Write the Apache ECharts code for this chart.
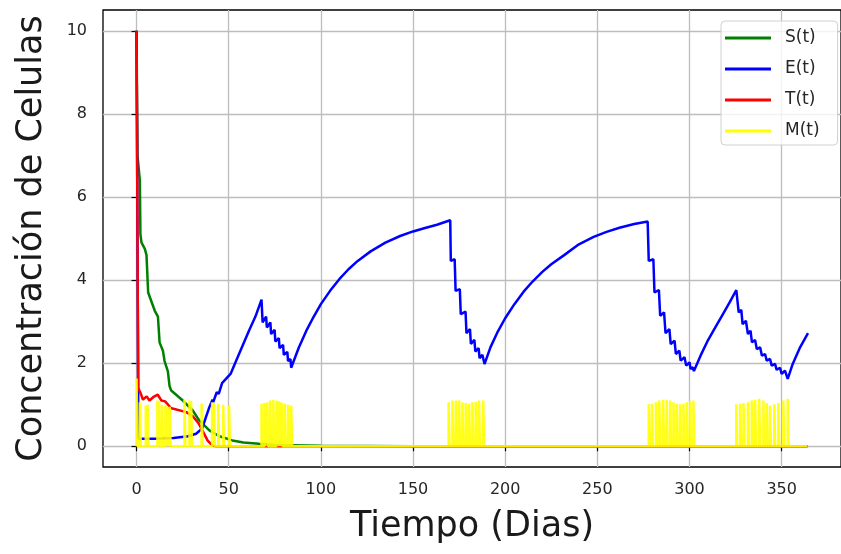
<!DOCTYPE html>
<html>
<head>
<meta charset="utf-8">
<script src="https://cdn.jsdelivr.net/npm/echarts@6/dist/echarts.min.js"></script>
<style>
  html, body { margin: 0; padding: 0; background: #ffffff; }
  #chart { width: 841px; height: 554px; }
</style>
</head>
<body>
<div id="chart"></div>
<script>
// Tumour / immune / chemotherapy model over one year (days 0..364)

// S(t): normal cells
const sDays = [0, 0.5, 1.8, 2.1, 2.7, 4.5, 5.4, 6.3, 9.9, 11.6, 12.5, 14.3, 15.2, 17, 17.9, 18.8, 25.1, 30.5, 34, 39.5, 44.9, 52, 58, 66.4, 75, 100, 150, 364];
const sVals = [10, 7.0, 6.4, 5.1, 4.9, 4.75, 4.6, 3.7, 3.26, 3.12, 2.5, 2.3, 2.05, 1.8, 1.45, 1.34, 1.1, 0.86, 0.62, 0.38, 0.24, 0.14, 0.09, 0.06, 0.03, 0.01, 0, 0];

// E(t): effector cells
const eDays = [0, 1, 10, 20, 28, 32.3, 35.5, 39.5, 41.2, 41.6, 43.5, 44.2, 44.6, 46.4, 47, 48.5, 49, 51, 55.6, 61, 64.5, 67.8,
  68.4, 70.3, 70.7, 72.6, 73.0, 74.9, 75.3, 77.2, 77.6, 79.5, 79.9, 81.8, 82.2, 83.5, 83.9,
  88, 92, 96, 100, 105, 110, 115, 120, 127, 135, 143, 150, 157, 163, 170.2,
  170.5, 172.6, 173.1, 175.4, 175.9, 178.5, 179.0, 180.9, 181.4, 183.3, 183.8, 185.6, 186.1, 187.6, 188.8,
  192, 196, 200, 205, 210, 215, 220, 225, 232, 240, 248, 255, 262, 270, 277.3,
  277.9, 280.4, 281.0, 283.4, 284.1, 286.2, 287.0, 289.1, 289.8, 291.9, 292.6, 294.5, 295.2, 297.3, 298.2, 300.0, 300.6, 301.8, 302.4,
  306, 310, 314, 318, 322, 325.4,
  326.7, 328.1, 328.8, 330.6, 331.7, 333.1, 333.9, 335.6, 336.5, 338.3, 339.3, 341, 341.9, 343.7, 344.6, 346.4, 347.3, 349.1, 350, 351.8, 353.3,
  356, 360, 364.3];
const eVals = [10, 0.18, 0.18, 0.2, 0.24, 0.3, 0.42, 0.94, 1.12, 1.06, 1.3, 1.34, 1.26, 1.52, 1.5, 1.62, 1.58, 1.74, 2.22, 2.78, 3.12, 3.53,
  2.98, 3.12, 2.86, 2.98, 2.70, 2.80, 2.52, 2.60, 2.36, 2.44, 2.20, 2.27, 2.05, 2.10, 1.89,
  2.37, 2.77, 3.11, 3.42, 3.74, 4.02, 4.26, 4.46, 4.69, 4.90, 5.06, 5.17, 5.26, 5.33, 5.44,
  4.46, 4.50, 3.74, 3.78, 3.18, 3.24, 2.72, 2.82, 2.46, 2.56, 2.28, 2.36, 2.12, 2.20, 1.98,
  2.38, 2.76, 3.08, 3.42, 3.72, 3.97, 4.19, 4.38, 4.60, 4.86, 5.04, 5.16, 5.26, 5.35, 5.41,
  4.46, 4.50, 3.70, 3.76, 3.14, 3.22, 2.72, 2.82, 2.46, 2.54, 2.22, 2.30, 2.06, 2.14, 1.94, 2.02, 1.86, 1.90, 1.81,
  2.18, 2.55, 2.86, 3.17, 3.48, 3.76,
  3.22, 3.28, 2.94, 3.02, 2.70, 2.78, 2.50, 2.56, 2.34, 2.38, 2.18, 2.22, 2.06, 2.10, 1.94, 1.98, 1.84, 1.89, 1.74, 1.82, 1.62,
  1.98, 2.38, 2.72];

// T(t): tumour cells
const tDays = [0, 0.9, 2, 3.5, 5.5, 7, 9, 11.5, 13.5, 15.5, 17.5, 18.5, 27, 30.5, 33.5, 36, 38.5, 41, 43, 364];
const tVals = [10, 1.4, 1.3, 1.12, 1.2, 1.1, 1.18, 1.24, 1.1, 1.08, 0.98, 0.92, 0.82, 0.72, 0.56, 0.36, 0.14, 0.02, 0, 0];

// M(t): drug concentration, one pulse per dose (day of dose, peak value)
const mPulseDays = [0, 1.8, 5.0, 6.0, 11.3, 12.2, 13.8, 15.6, 17.0, 18.0, 26.0, 28.7, 29.6, 35.3, 41.0, 42.0, 44.3, 47.0, 50.2,
  67.8, 69.4, 70.9, 72.5, 74.2, 75.9, 77.3, 78.7, 80.5, 82.3, 83.9,
  169.3, 171.4, 173.2, 175.0, 176.8, 178.6, 180.4, 182.2, 184.0, 185.8, 188.1,
  277.9, 279.6, 281.8, 283.6, 285.7, 287.6, 289.5, 291.3, 293.1, 294.9, 296.7, 298.5, 300.3, 302.1,
  325.4, 327.5, 329.3, 331.7, 333.8, 335.6, 337.8, 340.1, 341.9, 343.7, 346.0, 348.2, 350.9, 353.3];
const mPulsePeaks = [1.63, 1.06, 0.98, 1.0, 1.1, 1.08, 1.0, 0.98, 0.95, 0.95, 1.12, 1.1, 1.09, 1.02, 1.06, 1.04, 1.02, 1.0, 0.98,
  1.02, 1.04, 1.06, 1.1, 1.11, 1.1, 1.08, 1.05, 1.02, 1.0, 0.98,
  1.06, 1.1, 1.1, 1.1, 1.06, 1.04, 1.02, 1.06, 1.07, 1.1, 1.1,
  1.01, 1.02, 1.06, 1.1, 1.12, 1.12, 1.1, 1.06, 1.02, 1.01, 1.02, 1.06, 1.09, 1.1,
  1.01, 1.02, 1.04, 1.06, 1.1, 1.12, 1.14, 1.1, 1.04, 0.98, 1.01, 1.04, 1.1, 1.14];
const lastDay = 364;

// Axis ticks
const xTicks = [0, 50, 100, 150, 200, 250, 300, 350];
const yTicks = [0, 2, 4, 6, 8, 10];

const seriesNames = ['S(t)', 'E(t)', 'T(t)', 'M(t)'];
const seriesColors = ['#008000', '#0000ff', '#ff0000', '#ffff00'];

function pairs(xs, ys) {
  return xs.map((x, i) => [x, ys[i]]);
}

// each dose: jump up to its peak, then wash out within about half a day
const mData = [];
mPulseDays.forEach((d, i) => {
  mData.push([d, 0], [d, mPulsePeaks[i]], [d + 0.5, 0]);
});
mData.push([lastDay, 0]);

const FONT = 'DejaVu Sans';
const chart = echarts.init(document.getElementById('chart'), null, { renderer: 'canvas' });

function lineSeries(idx, data, opacity) {
  return {
    name: seriesNames[idx],
    type: 'line',
    data: data,
    showSymbol: false,
    symbol: 'none',
    color: seriesColors[idx],
    itemStyle: { color: seriesColors[idx] },
    lineStyle: { color: seriesColors[idx], width: 2.5, opacity: opacity },
    z: 2 + idx,
    animation: false
  };
}

chart.setOption({
  animation: false,
  backgroundColor: '#ffffff',
  grid: {
    left: 103, top: 10, right: -5, bottom: 87,
    show: true, borderColor: '#000000', borderWidth: 1.3, backgroundColor: 'transparent'
  },
  xAxis: {
    type: 'value',
    min: -18.2, max: 382.2,
    name: 'Tiempo (Dias)',
    nameLocation: 'middle',
    nameGap: 42,
    nameTextStyle: { fontFamily: FONT, fontSize: 35, color: '#1a1a1a' },
    axisLine: { show: false },
    axisTick: { show: true, inside: false, length: 5, customValues: xTicks, lineStyle: { color: '#000', width: 1.2 } },
    axisLabel: { customValues: xTicks, margin: 15, fontFamily: FONT, fontSize: 16, color: '#262626' },
    splitLine: { show: true, lineStyle: { color: '#bdbdbd', width: 1.3 } }
  },
  yAxis: {
    type: 'value',
    min: -0.5, max: 10.5,
    name: 'Concentración de Celulas',
    nameLocation: 'middle',
    nameGap: 54,
    nameTextStyle: { fontFamily: FONT, fontSize: 35, color: '#1a1a1a' },
    axisLine: { show: false },
    axisTick: { show: true, inside: false, length: 5, customValues: yTicks, lineStyle: { color: '#000', width: 1.2 } },
    axisLabel: { customValues: yTicks, margin: 16, fontFamily: FONT, fontSize: 16, color: '#262626' },
    splitLine: { show: true, lineStyle: { color: '#bdbdbd', width: 1.3 } }
  },
  legend: {
    data: seriesNames,
    orient: 'vertical',
    left: 721, top: 21,
    icon: 'rect',
    itemWidth: 46, itemHeight: 3,
    itemGap: 11,
    padding: [7, 18, 4, 4],
    backgroundColor: 'rgba(255,255,255,0.8)',
    borderColor: '#d0d0d0', borderWidth: 1, borderRadius: 4,
    textStyle: { fontFamily: FONT, fontSize: 17, color: '#262626', lineHeight: 20, padding: [0, 0, 0, 9] }
  },
  series: [
    lineSeries(0, pairs(sDays, sVals), 1),
    lineSeries(1, pairs(eDays, eVals), 1),
    lineSeries(2, pairs(tDays, tVals), 1),
    lineSeries(3, mData, 0.9)
  ]
});
</script>
</body>
</html>
